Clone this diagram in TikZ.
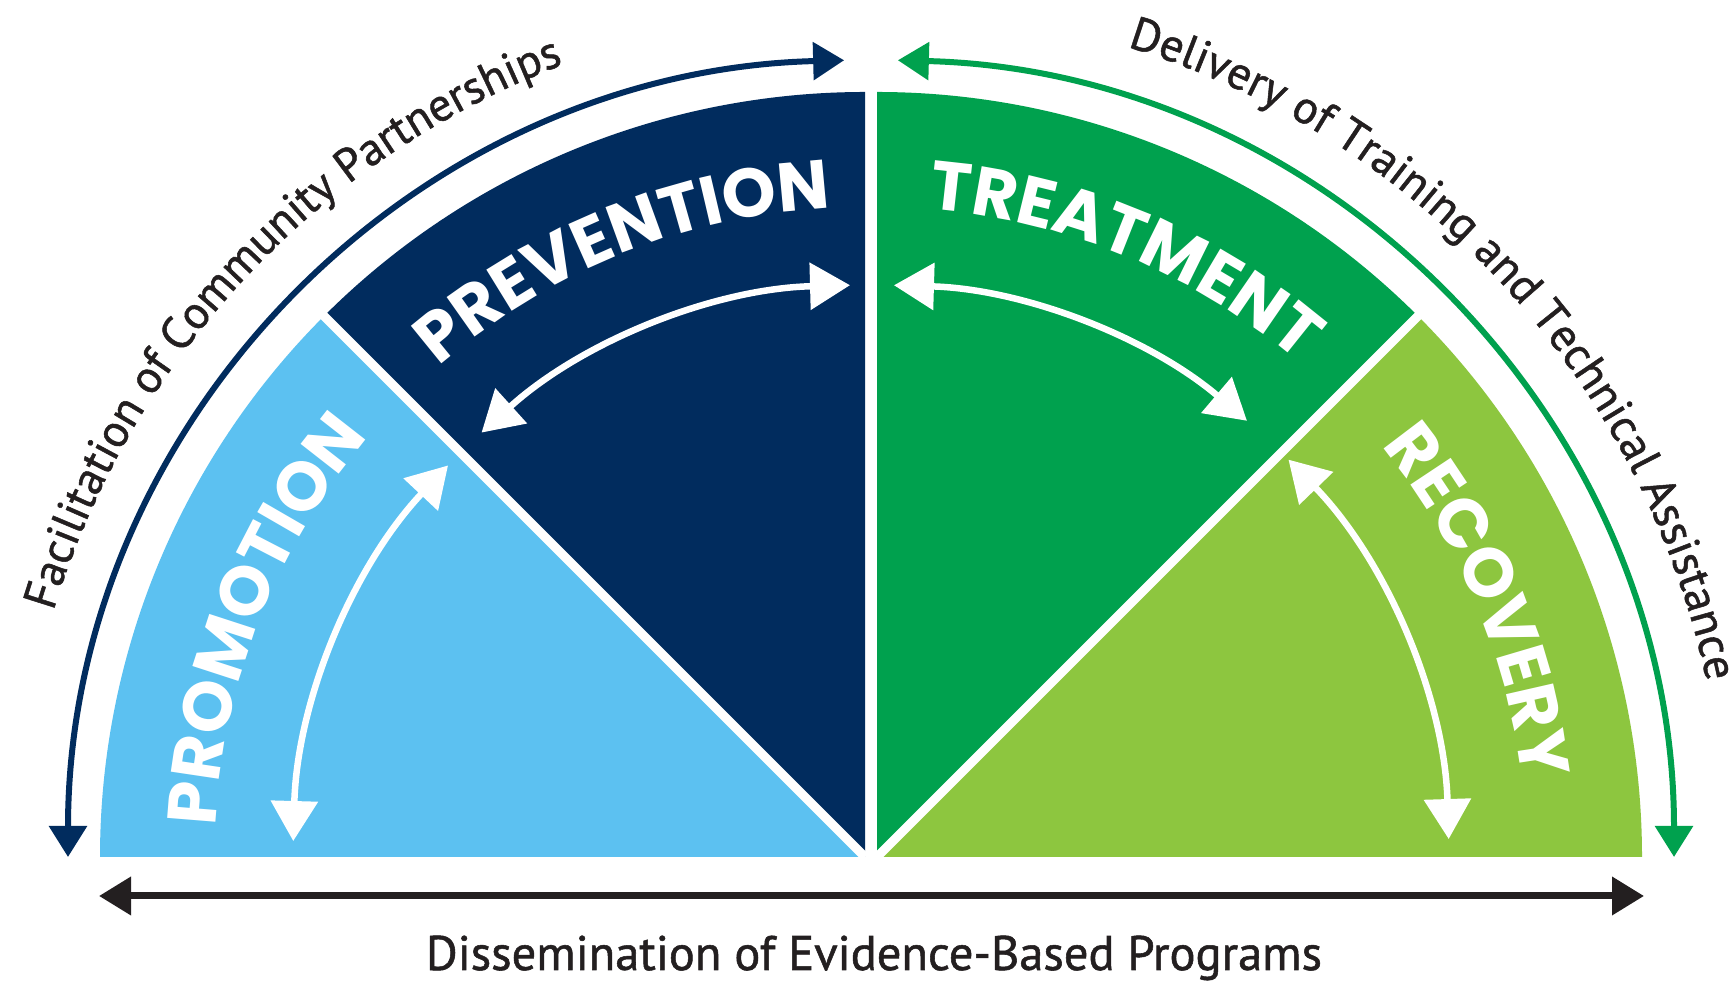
\documentclass[tikz,border=0pt]{standalone}
\usepackage{fontspec}
\usepackage{graphicx}
\usetikzlibrary{arrows.meta,decorations.text}
\newfontfamily\ptsans{PT Sans}[FakeBold=1.1]
\newfontfamily\poppins{Poppins}
\definecolor{lblue}{HTML}{5CC1F1}
\definecolor{navy}{HTML}{012C5E}
\definecolor{tgreen}{HTML}{00A14E}
\definecolor{lgreen}{HTML}{8DC63F}
\definecolor{ink}{HTML}{231F20}
\newcommand\outerfont{\ptsans\fontsize{13.2}{15}\selectfont\color{ink}}
\newcommand\lblfont{\poppins\bfseries\fontsize{19.6}{24}\selectfont\color{white}}
\tikzset{
  outerarrow/.style={line width=0.06cm, {Triangle[width=0.37cm,length=0.31cm]}-{Triangle[width=0.37cm,length=0.31cm]}},
  innerarrow/.style={white, line width=0.065cm, {Triangle[width=0.46cm,length=0.40cm]}-{Triangle[width=0.46cm,length=0.40cm]}},
  sep/.style={white, line width=0.09cm},
}
\begin{document}
\begin{tikzpicture}
\useasboundingbox (0,0) rectangle (17.35,9.88);
\fill[white] (0,0) rectangle (17.35,9.88);
\coordinate (CL) at (8.65,1.31);
\coordinate (CR) at (8.77,1.31);
% sectors
\fill[lblue] (CL) -- ([shift={(180:7.65)}]CL) arc[start angle=180,end angle=135,radius=7.65] -- cycle;
\fill[navy] (CL) -- ([shift={(135:7.65)}]CL) arc[start angle=135,end angle=90,radius=7.65] -- cycle;
\fill[tgreen] (CR) -- ([shift={(90:7.65)}]CR) arc[start angle=90,end angle=45,radius=7.65] -- cycle;
\fill[lgreen] (CR) -- ([shift={(45:7.65)}]CR) arc[start angle=45,end angle=0,radius=7.65] -- cycle;
\coordinate (dL) at ([shift={(135:7.8)}]CL);
\coordinate (dR) at ([shift={(45:7.8)}]CR);
\draw[sep] (CL) -- (dL);
\draw[sep] (CR) -- (dR);
% outer arcs
\draw[outerarrow, navy] ([shift={(91.5:7.97)}]CL) arc[start angle=91.5,end angle=180,radius=7.97];
\draw[outerarrow, tgreen] ([shift={(88.5:7.97)}]CR) arc[start angle=88.5,end angle=0,radius=7.97];
% outer texts
\path[decorate, decoration={text along path, text align=center, text={|\outerfont|Facilitation of Community Partnerships}}]
  ([shift={(174:8.48)}]CL) arc[start angle=174,end angle=100,radius=8.48];
\path[decorate, decoration={text along path, text align=center, text={|\outerfont|Delivery of Training and Technical Assistance}}]
  ([shift={(84.4:8.48)}]CR) arc[start angle=84.4,end angle=0.4,radius=8.48];
% inner arrows
\draw[innerarrow] ([shift={(178.4:5.72)}]CL) arc[start angle=178.4,end angle=136.8,radius=5.72];
\draw[innerarrow] ([shift={(132.1:5.72)}]CL) arc[start angle=132.1,end angle=91.5,radius=5.72];
\draw[innerarrow] ([shift={(88.3:5.72)}]CR) arc[start angle=88.3,end angle=49.7,radius=5.72];
\draw[innerarrow] ([shift={(44:5.72)}]CR) arc[start angle=44,end angle=1.8,radius=5.72];
% labels
\path[decorate, decoration={text along path, text align=center, text={|\lblfont|PROMOTION}}]
  ([shift={(190:6.5)}]CL) arc[start angle=190,end angle=127,radius=6.5];
\path[decorate, decoration={text along path, text align=center, text={|\lblfont|PREVENTION}}]
  ([shift={(145:6.5)}]CL) arc[start angle=145,end angle=79,radius=6.5];
\path[decorate, decoration={text along path, text align=center, text={|\lblfont|TREATMENT}}]
  ([shift={(100:6.5)}]CR) arc[start angle=100,end angle=35,radius=6.5];
\path[decorate, decoration={text along path, text align=center, text={|\lblfont|RECOVERY}}]
  ([shift={(55:6.5)}]CR) arc[start angle=55,end angle=-9,radius=6.5];
% bottom arrow
\coordinate (bl) at (0.99,0.92);
\coordinate (br) at (16.44,0.92);
\draw[ink, line width=0.07cm, {Triangle[width=0.37cm,length=0.32cm]}-{Triangle[width=0.37cm,length=0.32cm]}] (bl) -- (br);
\node[anchor=base, inner sep=0pt, text=ink] (dis) at (8.74,0.18) {\resizebox{8.96cm}{!}{\ptsans Dissemination of Evidence-Based Programs}};
\end{tikzpicture}
\end{document}
